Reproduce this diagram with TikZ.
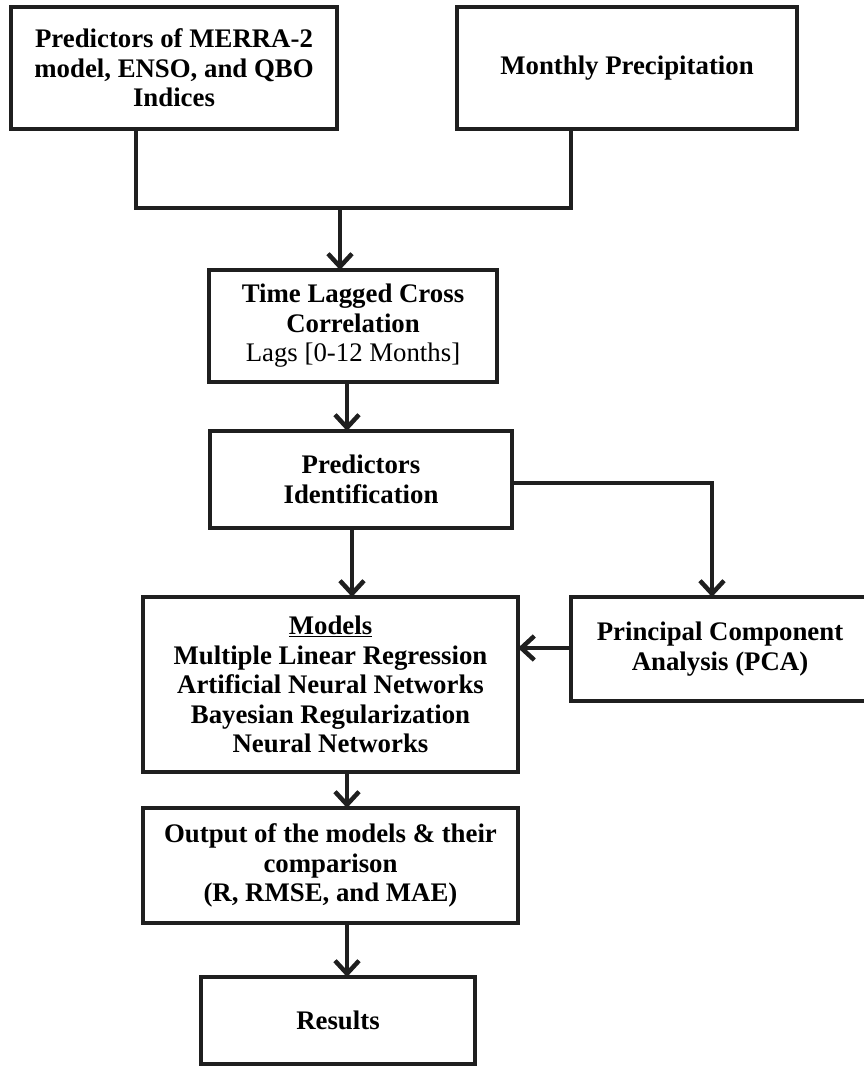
\documentclass[tikz,border=0pt]{standalone}
\usepackage{fontspec}
\setmainfont{Liberation Serif}
\usetikzlibrary{arrows.meta}
\begin{document}
\begin{tikzpicture}[x=1pt,y=-1pt,
  box/.style={draw=black!88, line width=4pt, rectangle, inner sep=0pt, outer sep=0pt,
    align=center, font=\fontsize{26.8}{29.5}\selectfont\bfseries, fill=white},
  conn/.style={draw=black!88, line width=4.5pt},
  arr/.style={conn, -{Straight Barb[length=13pt,width=24pt]}}]
\useasboundingbox (0,0) rectangle (863,1066);
\node[box, minimum width=326pt, minimum height=122pt] (b1) at (174,68) {Predictors of MERRA-2\\model, ENSO, and QBO\\Indices};
\node[box, minimum width=340pt, minimum height=122pt] (b2) at (627,68) {Monthly Precipitation};
\node[box, minimum width=288pt, minimum height=112pt] (time) at (353,326) {Time Lagged Cross\\Correlation\\{\mdseries Lags [0-12 Months]}};
\node[box, minimum width=302pt, minimum height=97pt] (pred) at (361,479.5) {Predictors\\Identification};
\node[box, minimum width=375pt, minimum height=175pt] (models) at (330.5,684.5) {\underline{Models}\\Multiple Linear Regression\\Artificial Neural Networks\\Bayesian Regularization\\Neural Networks};
\node[box, minimum width=298pt, minimum height=104pt] (pca) at (720,649) {Principal Component\\Analysis (PCA)};
\node[box, minimum width=375pt, minimum height=115pt] (out) at (330.5,865.5) {Output of the models \& their\\comparison\\(R, RMSE, and MAE)};
\node[box, minimum width=274pt, minimum height=87pt] (res) at (338,1020.5) {Results};
% merge connector
\coordinate (l1) at (136,208);
\coordinate (l2) at (571,208);
\coordinate (m) at (340,208);
\coordinate (xa) at (347,0);
\coordinate (xb) at (352,0);
\coordinate (xp) at (712,483);
\coordinate (yp) at (0,648);
\draw[conn, line join=miter] (b1.south-|l1) -- (l1) -- (l2) -- (b2.south-|l2);
\draw[arr] (m) -- (time.north-|m);
\draw[arr] (time.south-|xa) -- (pred.north-|xa);
\draw[arr] (pred.south-|xb) -- (models.north-|xb);
\draw[arr, line join=miter] (pred.east|-xp) -- (xp) -- (pca.north-|xp);
\draw[arr] (pca.west|-yp) -- (models.east|-yp);
\draw[arr] (models.south-|xa) -- (out.north-|xa);
\draw[arr] (out.south-|xa) -- (res.north-|xa);
\end{tikzpicture}
\end{document}
